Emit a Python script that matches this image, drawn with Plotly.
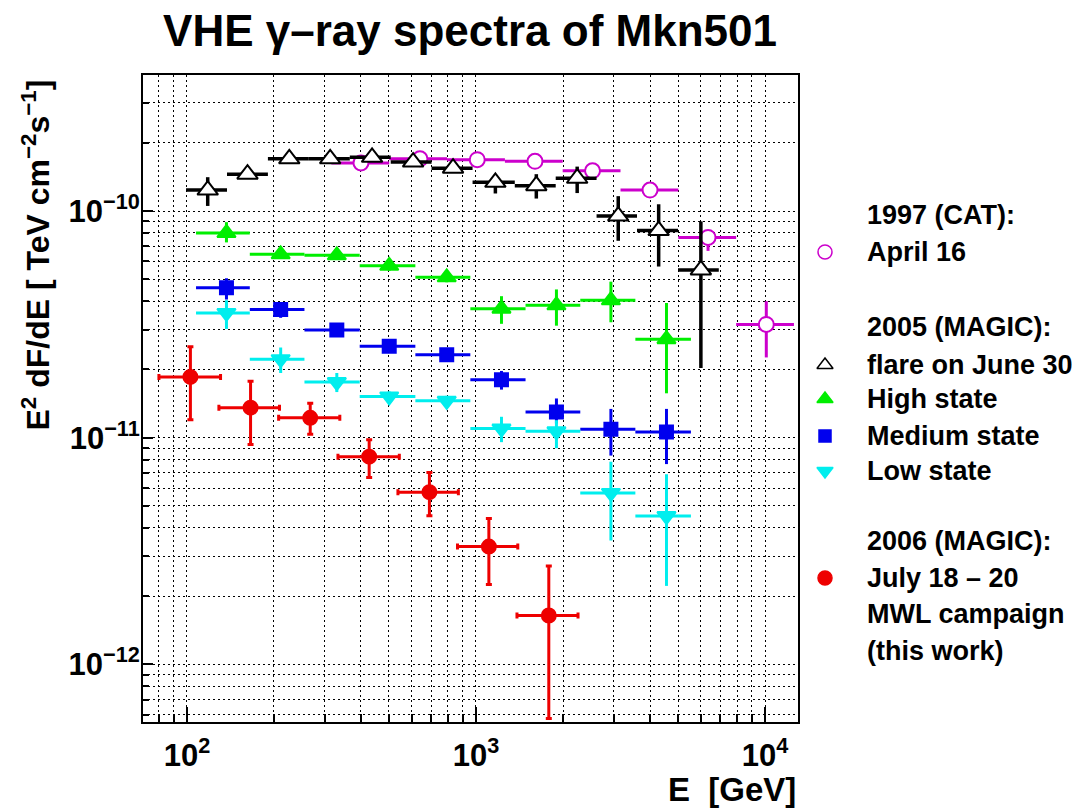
import plotly.graph_objects as go

# 1997 CAT, April 16
cat_e = [400, 640, 1010, 1600, 2530, 4000, 6350, 10100]
cat_e_lo = [316, 501, 794, 1259, 1995, 3162, 5012, 7943]
cat_e_hi = [501, 794, 1259, 1995, 3162, 5012, 7943, 12589]
cat_f = [1.63e-10, 1.70e-10, 1.685e-10, 1.656e-10, 1.504e-10, 1.237e-10, 7.65e-11, 3.16e-11]
cat_f_lo = [1.56e-10, 1.63e-10, 1.62e-10, 1.59e-10, 1.44e-10, 1.17e-10, 6.67e-11, 2.26e-11]
cat_f_hi = [1.70e-10, 1.77e-10, 1.75e-10, 1.72e-10, 1.57e-10, 1.30e-10, 8.2e-11, 4.0e-11]

# 2005 MAGIC, flare on June 30
flare_e = [118, 162, 226, 313, 437, 606, 833, 1167, 1617, 2239, 3105, 4285, 5998]
flare_e_lo = [99.3, 137.6, 190.6, 264, 366, 507, 702, 973, 1362, 1887, 2613, 3606, 5000]
flare_e_hi = [137.6, 190.6, 264, 366, 507, 702, 973, 1362, 1887, 2613, 3606, 5000, 6918]
flare_f = [1.237e-10, 1.454e-10, 1.70e-10, 1.70e-10, 1.726e-10, 1.644e-10, 1.546e-10,
           1.339e-10, 1.294e-10, 1.395e-10, 9.5e-11, 8.2e-11, 5.5e-11]
flare_f_lo = [1.053e-10, 1.39e-10, 1.63e-10, 1.63e-10, 1.65e-10, 1.57e-10, 1.48e-10,
              1.195e-10, 1.135e-10, 1.20e-10, 7.39e-11, 5.69e-11, 2.03e-11]
flare_f_hi = [1.41e-10, 1.52e-10, 1.77e-10, 1.77e-10, 1.80e-10, 1.72e-10, 1.62e-10,
              1.44e-10, 1.454e-10, 1.57e-10, 1.163e-10, 1.071e-10, 9.0e-11]

# 2005 MAGIC states share the same energy bins
state_e = [137, 211, 330, 501, 792, 1225, 1898, 2929, 4560]
state_e_lo = [107.5, 165, 255, 396, 617, 956, 1484, 2295, 3559]
state_e_hi = [165, 255, 396, 617, 956, 1484, 2295, 3559, 5541]

high_f = [8.0e-11, 6.44e-11, 6.38e-11, 5.73e-11, 5.1e-11, 3.71e-11, 3.84e-11, 4.04e-11, 2.72e-11]
high_f_lo = [7.27e-11, 6.15e-11, 6.08e-11, 5.45e-11, 4.85e-11, 3.18e-11, 3.12e-11, 3.23e-11, 1.57e-11]
high_f_hi = [8.93e-11, 6.75e-11, 6.70e-11, 6.02e-11, 5.37e-11, 4.21e-11, 4.51e-11, 4.88e-11, 3.93e-11]

medium_f = [4.59e-11, 3.68e-11, 2.99e-11, 2.53e-11, 2.32e-11, 1.80e-11, 1.30e-11, 1.09e-11, 1.06e-11]
medium_f_lo = [4.07e-11, 3.38e-11, 2.87e-11, 2.43e-11, 2.22e-11, 1.63e-11, 1.155e-11, 8.34e-12, 7.65e-12]
medium_f_hi = [5.05e-11, 3.97e-11, 3.11e-11, 2.63e-11, 2.42e-11, 1.97e-11, 1.49e-11, 1.34e-11, 1.34e-11]

low_f = [3.55e-11, 2.22e-11, 1.76e-11, 1.52e-11, 1.454e-11, 1.097e-11, 1.067e-11, 5.71e-12, 4.51e-12]
low_f_lo = [3.02e-11, 1.93e-11, 1.59e-11, 1.44e-11, 1.38e-11, 9.56e-12, 8.99e-12, 3.52e-12, 2.22e-12]
low_f_hi = [4.04e-11, 2.50e-11, 1.93e-11, 1.60e-11, 1.53e-11, 1.237e-11, 1.195e-11, 7.84e-12, 6.9e-12]

# 2006 MAGIC, July 18-20 (this work)
mwl_e = [102.8, 166, 267, 427, 690, 1108, 1786]
mwl_e_lo = [80, 129, 207.6, 333, 537, 863, 1386]
mwl_e_hi = [130.7, 209, 338, 543, 869, 1395, 2254]
mwl_f = [1.854e-11, 1.357e-11, 1.224e-11, 8.25e-12, 5.75e-12, 3.31e-12, 1.644e-12]
mwl_f_lo = [1.20e-11, 9.34e-12, 1.035e-11, 6.67e-12, 4.53e-12, 2.25e-12, 5.77e-13]
mwl_f_hi = [2.52e-11, 1.774e-11, 1.42e-11, 9.8e-12, 7.02e-12, 4.40e-12, 2.72e-12]

FONT = "Liberation Sans"
W, H = 1080, 810
OFF = 8  # the page body adds an 8px margin, so place everything 8px up/left
PL, PR, PT, PB = 143 - OFF, 798 - OFF, 75 - OFF, 722 - OFF   # plot frame
RM = 18
PAPER_W = W - PL - RM
PLOT_H = PB - PT


def px_x(p):
    return (p - OFF - PL) / PAPER_W


def px_y(p):
    return (PB - (p - OFF)) / PLOT_H


fig = go.Figure()


def add_series(e, e_lo, e_hi, f, f_lo, f_hi, symbol, color, fill, size, lw=3, cap=0):
    fig.add_trace(go.Scatter(
        x=e, y=f, mode='markers', showlegend=False,
        marker=dict(symbol=symbol, size=size, color=fill,
                    line=dict(color=color, width=2)),
        error_x=dict(type='data', symmetric=False,
                     array=[h - v for h, v in zip(e_hi, e)],
                     arrayminus=[v - l for l, v in zip(e_lo, e)],
                     color=color, thickness=lw, width=cap),
        error_y=dict(type='data', symmetric=False,
                     array=[h - v for h, v in zip(f_hi, f)],
                     arrayminus=[v - l for l, v in zip(f_lo, f)],
                     color=color, thickness=lw, width=cap),
    ))


add_series(cat_e, cat_e_lo, cat_e_hi, cat_f, cat_f_lo, cat_f_hi,
           'circle', '#cc00cc', 'white', 15)
add_series(flare_e, flare_e_lo, flare_e_hi, flare_f, flare_f_lo, flare_f_hi,
           'triangle-up', 'black', 'white', 18, lw=3.5)
add_series(state_e, state_e_lo, state_e_hi, high_f, high_f_lo, high_f_hi,
           'triangle-up', '#00ee00', '#00ee00', 16)
add_series(state_e, state_e_lo, state_e_hi, medium_f, medium_f_lo, medium_f_hi,
           'square', '#0000ee', '#0000ee', 13)
add_series(state_e, state_e_lo, state_e_hi, low_f, low_f_lo, low_f_hi,
           'triangle-down', '#00eeee', '#00eeee', 16)
add_series(mwl_e, mwl_e_lo, mwl_e_hi, mwl_f, mwl_f_lo, mwl_f_hi,
           'circle', '#ee0000', '#ee0000', 14, cap=3)

# hand-made legend on a helper axis measured in (reference) pixels
legend_rows = [
    ("1997 (CAT):", 215, None, None, None),
    ("April 16", 252, 'circle', '#cc00cc', 'white'),
    ("2005 (MAGIC):", 327, None, None, None),
    ("flare on June 30", 365, 'triangle-up', 'black', 'white'),
    ("High state", 399, 'triangle-up', '#00ee00', '#00ee00'),
    ("Medium state", 436, 'square', '#0000ee', '#0000ee'),
    ("Low state", 471, 'triangle-down', '#00eeee', '#00eeee'),
    ("2006 (MAGIC):", 541, None, None, None),
    ("July 18 \u2013 20", 578, 'circle', '#ee0000', '#ee0000'),
    ("MWL campaign", 614, None, None, None),
    ("(this work)", 651, None, None, None),
]

X2_LO = 805
X2_HI = W + OFF - RM
annotations = []
for text, y, sym, col, fill in legend_rows:
    annotations.append(dict(
        x=865, y=y, xref='x2', yref='y2', text='<b>%s</b>' % text, showarrow=False,
        xanchor='left', yanchor='middle', font=dict(family=FONT, size=27, color='black')))
    if sym:
        fig.add_trace(go.Scatter(
            x=[825], y=[y], xaxis='x2', yaxis='y2', mode='markers', showlegend=False,
            marker=dict(symbol=sym, size=14 if sym != 'square' else 12, color=fill,
                        line=dict(color=col, width=1.5)),
            hoverinfo='skip'))

annotations.append(dict(
    x=px_x(35), y=px_y(78), xref='paper', yref='paper', textangle=-90,
    text='<b>E<sup>2</sup> dF/dE [ TeV cm<sup>\u22122</sup>s<sup>\u22121</sup>]</b>',
    showarrow=False, xanchor='center', yanchor='top',
    font=dict(family=FONT, size=32, color='black')))
annotations.append(dict(
    x=px_x(798), y=px_y(789), xref='paper', yref='paper',
    text='<b>E\u00a0 [GeV]</b>', showarrow=False, xanchor='right', yanchor='middle',
    font=dict(family=FONT, size=33, color='black')))

x_minor = [k * 10 ** n for n in range(1, 5) for k in range(2, 10)]
y_minor = [k * 10.0 ** n for n in range(-13, -9) for k in range(2, 10)]
grid = dict(showgrid=True, gridcolor='black', gridwidth=1, griddash='2px,3px')

fig.update_layout(
    width=W, height=H,
    margin=dict(l=PL, r=RM, t=PT, b=H - PB),
    paper_bgcolor='white', plot_bgcolor='white',
    title=dict(text='<b>VHE \u03b3\u2013ray spectra of Mkn501</b>',
               x=px_x(470), xref='paper', xanchor='center',
               y=1 - (31 - OFF) / H, yref='container', yanchor='middle',
               font=dict(family=FONT, size=44, color='black')),
    xaxis=dict(type='log', range=[1.848, 4.114], domain=[0, (PR - PL) / PAPER_W],
               tickvals=[100, 1000, 10000],
               ticktext=['10<sup>2</sup>', '10<sup>3</sup>', '10<sup>4</sup>'],
               ticks='inside', ticklen=15, tickwidth=1.5, tickcolor='black',
               tickfont=dict(family=FONT, size=31, color='black', weight='bold'),
               ticklabelstandoff=5,
               showline=True, linecolor='black', linewidth=2, mirror=True,
               zeroline=False, **grid,
               minor=dict(tickvals=x_minor, ticks='inside', ticklen=8, tickwidth=1.5,
                          tickcolor='black', **grid)),
    yaxis=dict(type='log', range=[-12.254, -9.4],
               tickvals=[1e-12, 1e-11, 1e-10],
               ticktext=['10<sup>\u221212</sup>', '10<sup>\u221211</sup>', '10<sup>\u221210</sup>'],
               ticks='inside', ticklen=10, tickwidth=1.5, tickcolor='black',
               tickfont=dict(family=FONT, size=31, color='black', weight='bold'),
               ticklabelstandoff=-5,
               showline=True, linecolor='black', linewidth=2, mirror=True,
               zeroline=False, **grid,
               minor=dict(tickvals=y_minor, ticks='inside', ticklen=6, tickwidth=1.5,
                          tickcolor='black', **grid)),
    xaxis2=dict(domain=[px_x(X2_LO), 1], range=[X2_LO, X2_HI], anchor='y2', visible=False),
    yaxis2=dict(domain=[0, 1], range=[722, 75], anchor='x2', visible=False),
    annotations=annotations,
)

fig.write_html("out.html")
